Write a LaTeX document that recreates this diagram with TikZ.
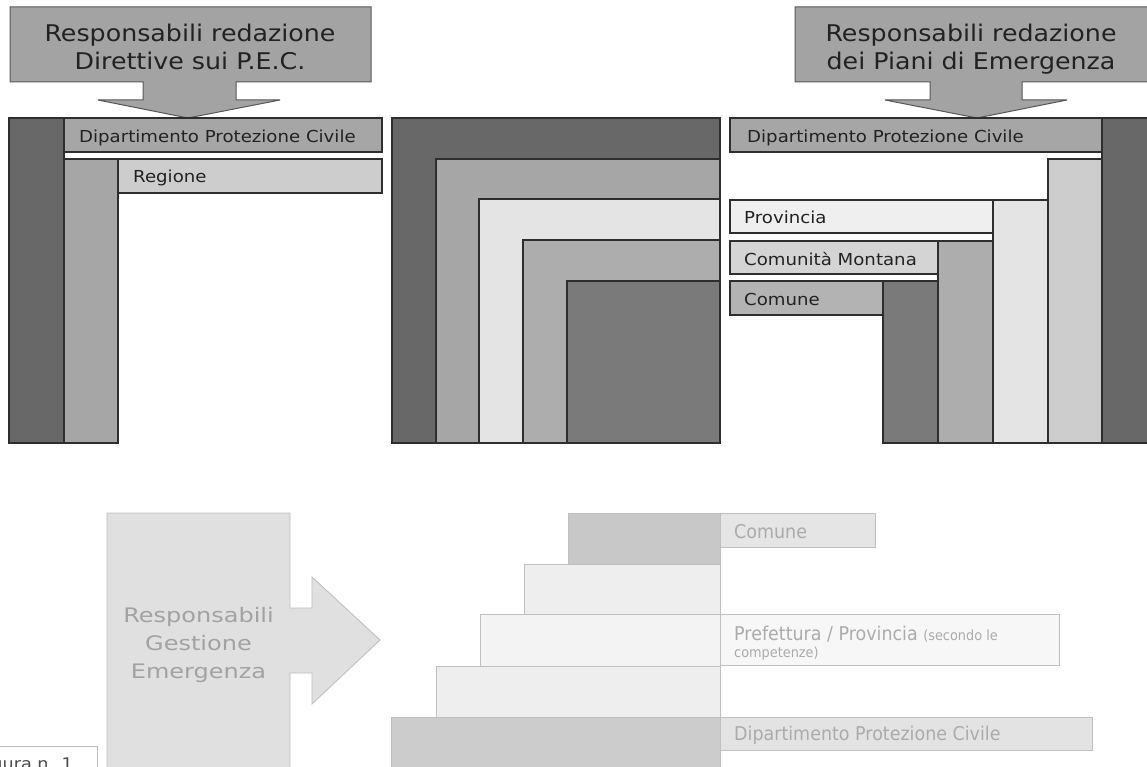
\documentclass[tikz,border=0pt]{standalone}
\usepackage{fontspec}
\setmainfont{DejaVu Sans}[FakeStretch=1.1]
\newfontfamily\widefont{DejaVu Sans}[FakeStretch=1.2]
\newfontfamily\condfont{DejaVu Sans}[FakeStretch=0.92]
\definecolor{edge}{HTML}{2E2E2E}
\definecolor{txt}{HTML}{222222}
\definecolor{gA}{HTML}{686868}
\definecolor{gB}{HTML}{A6A6A6}
\definecolor{gC}{HTML}{CDCDCD}
\definecolor{gD}{HTML}{E4E4E4}
\definecolor{gE}{HTML}{ADADAD}
\definecolor{gF}{HTML}{7A7A7A}
\definecolor{gP}{HTML}{EFEFEF}
\definecolor{gM}{HTML}{D4D4D4}
\definecolor{gK}{HTML}{B3B3B3}
\definecolor{call}{HTML}{A3A3A3}
\definecolor{fedge}{HTML}{C0C0C0}
\definecolor{ftxt}{HTML}{ABABAB}
\definecolor{farrow}{HTML}{E0E0E0}
\definecolor{fs1}{HTML}{C8C8C8}
\definecolor{fs2}{HTML}{EEEEEE}
\definecolor{fs3}{HTML}{F3F3F3}
\definecolor{fs5}{HTML}{CCCCCC}
\definecolor{fl1}{HTML}{E5E5E5}
\definecolor{fl2}{HTML}{F7F7F7}
\definecolor{fl3}{HTML}{E3E3E3}
\newcommand\blk[5]{\filldraw[blk,fill=#5] (#1,#2) rectangle (#3,#4);}
\newcommand\fblk[5]{\filldraw[fblk,fill=#5] (#1,#2) rectangle (#3,#4);}
\begin{document}
\begin{tikzpicture}[x=1pt,y=-1pt,
  blk/.style={draw=edge,line width=1.2pt},
  fblk/.style={draw=fedge,line width=0.9pt},
  callout/.style={draw=edge!80,line width=1pt,fill=call},
  lbl/.style={anchor=base west,inner sep=0pt,text=txt,font=\fontsize{16.5}{20}\selectfont},
  ctxt/.style={anchor=base,inner sep=0pt,text=txt,font=\fontsize{23}{28}\selectfont},
  flbl/.style={anchor=base west,inner sep=0pt,text=ftxt,font=\condfont\fontsize{19}{22}\selectfont},
  ftxtbig/.style={anchor=base,inner sep=0pt,text=ftxt!95!black,font=\widefont\fontsize{20}{24}\selectfont}]
\useasboundingbox (0,0) rectangle (1147,767);
\clip (0,0) rectangle (1147,767);
\fill[white] (0,0) rectangle (1147,767);

% ---------- top-left callout ----------
\filldraw[callout] (10,7) -- (371,7) -- (371,82) -- (236,82) -- (236,100) -- (280,100)
  -- (188,118) -- (98,100) -- (143,100) -- (143,82) -- (10,82) -- cycle;
\node[ctxt] (cl1) at (190,42) {Responsabili redazione};
\node[ctxt] (cl2) at (190,70) {Direttive sui P.E.C.};

% ---------- top-right callout ----------
\filldraw[callout] (795,7) -- (1155,7) -- (1155,82) -- (1022,82) -- (1022,100) -- (1067,100)
  -- (977,118) -- (885,100) -- (930,100) -- (930,82) -- (795,82) -- cycle;
\node[ctxt] (cr1) at (971,42) {Responsabili redazione};
\node[ctxt] (cr2) at (971,70) {dei Piani di Emergenza};

% ---------- left group ----------
\blk{9}{118}{64}{443}{gA}
\blk{64}{118}{382}{152}{gB}
\blk{64}{159}{118}{443}{gB}
\blk{118}{159}{382}{193}{gC}
\node[lbl] (ldpc) at (79,142.5) {Dipartimento Protezione Civile};
\node[lbl] (lreg) at (133,183) {Regione};

% ---------- middle group ----------
\blk{392}{118}{720}{443}{gA}
\blk{436}{159}{720}{443}{gB}
\blk{479}{199}{720}{443}{gD}
\blk{523}{240}{720}{443}{gE}
\blk{567}{281}{720}{443}{gF}

% ---------- right group ----------
\blk{730}{118}{1102}{152}{gB}
\blk{1102}{118}{1155}{443}{gA}
\blk{1048}{159}{1102}{443}{gC}
\blk{993}{200}{1048}{443}{gD}
\blk{730}{200}{993}{233}{gP}
\blk{938}{241}{993}{443}{gE}
\blk{730}{241}{938}{274}{gM}
\blk{883}{281}{938}{443}{gF}
\blk{730}{281}{883}{315}{gK}
\node[lbl] (rdpc) at (747,142.5) {Dipartimento Protezione Civile};
\node[lbl] (rprov) at (744,224) {Provincia};
\node[lbl] (rcm) at (744,265) {Comunità Montana};
\node[lbl] (rcom) at (744,305.5) {Comune};

% ---------- bottom: faded arrow ----------
\filldraw[fblk,fill=farrow] (107,513) -- (290,513) -- (290,608) -- (312,608) -- (312,577)
  -- (380,640) -- (312,704) -- (312,673) -- (290,673) -- (290,780) -- (107,780) -- cycle;
\node[ftxtbig] (g1) at (198.5,622) {Responsabili};
\node[ftxtbig] (g2) at (198.5,650) {Gestione};
\node[ftxtbig] (g3) at (198.5,678) {Emergenza};

% ---------- bottom: staircase ----------
\fblk{568}{513}{720}{564}{fs1}
\fblk{524}{564}{720}{614}{fs2}
\fblk{480}{614}{720}{666}{fs3}
\fblk{436}{666}{720}{717}{fs2}
\fblk{391}{717}{720}{780}{fs5}
\fblk{720}{513}{875}{547}{fl1}
\fblk{720}{614}{1059}{665}{fl2}
\fblk{720}{717}{1092}{750}{fl3}
\node[flbl] (bcom) at (734,538) {Comune};
\node[flbl] (bpref) at (734,640) {Prefettura / Provincia {\fontsize{14}{16}\selectfont (secondo le}};
\node[flbl,font=\condfont\fontsize{14}{16}\selectfont] (bcomp) at (734,657) {competenze)};
\node[flbl] (bdpc) at (734,740) {Dipartimento Protezione Civile};

% ---------- bottom-left caption box ----------
\filldraw[draw=fedge,line width=0.8pt,fill=white] (-20,746) rectangle (97,790);
\node[anchor=base east,inner sep=0pt,text=black!70,font=\fontsize{16}{19}\selectfont] (fig) at (73,769) {Figura n. 1};
\end{tikzpicture}
\end{document}
